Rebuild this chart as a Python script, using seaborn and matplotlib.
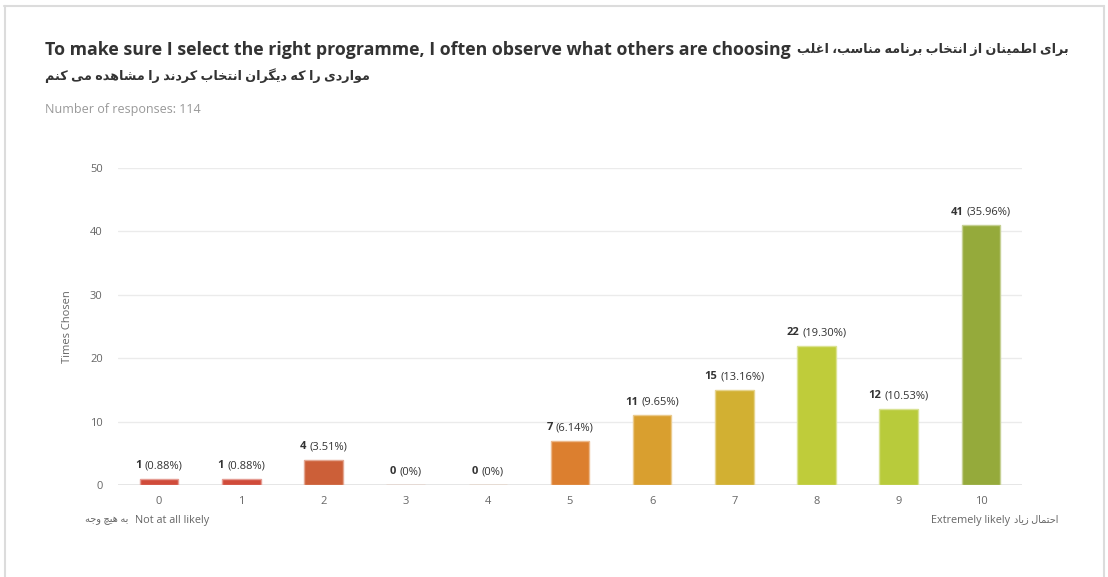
import matplotlib
matplotlib.use("Agg")
import matplotlib.pyplot as plt
import seaborn as sns
import pandas as pd
from matplotlib.lines import Line2D

# ---------------- data ----------------
categories = ["0", "1", "2", "3", "4", "5", "6", "7", "8", "9", "10"]
counts = [1, 1, 4, 0, 0, 7, 11, 15, 22, 12, 41]
pct_labels = ["(0.88%)", "(0.88%)", "(3.51%)", "(0%)", "(0%)", "(6.14%)",
              "(9.65%)", "(13.16%)", "(19.30%)", "(10.53%)", "(35.96%)"]
bar_colors = ["#d04b3a", "#d04b3a", "#cc5f38", "#d06a36", "#d77433", "#dc7f2f",
              "#d99f2f", "#d2b032", "#bfcc3a", "#b8cb3b", "#95aa3b"]
yticks = [0, 10, 20, 30, 40, 50]
title_en = "To make sure I select the right programme, I often observe what others are choosing"
title_fa_1 = "برای اطمینان از انتخاب برنامه مناسب، اغلب"
title_fa_2 = "مواردی را که دیگران انتخاب کردند را مشاهده می کنم"
subtitle = "Number of responses: 114"
ylabel = "Times Chosen"
low_en, low_fa = "Not at all likely", "به هیچ وجه"
high_en, high_fa = "Extremely likely", "احتمال زیاد"

# ------------- minimal Arabic/Persian shaping (matplotlib has no shaper) -------------
FORMS = {  # isolated, final, initial, medial
    "ا": (0xFE8D, 0xFE8E), "د": (0xFEA9, 0xFEAA), "ر": (0xFEAD, 0xFEAE),
    "ز": (0xFEAF, 0xFEB0), "و": (0xFEED, 0xFEEE),
    "ب": (0xFE8F, 0xFE90, 0xFE91, 0xFE92), "ت": (0xFE95, 0xFE96, 0xFE97, 0xFE98),
    "ج": (0xFE9D, 0xFE9E, 0xFE9F, 0xFEA0), "ح": (0xFEA1, 0xFEA2, 0xFEA3, 0xFEA4),
    "چ": (0xFB7A, 0xFB7B, 0xFB7C, 0xFB7D),
    "خ": (0xFEA5, 0xFEA6, 0xFEA7, 0xFEA8), "س": (0xFEB1, 0xFEB2, 0xFEB3, 0xFEB4),
    "ش": (0xFEB5, 0xFEB6, 0xFEB7, 0xFEB8), "ط": (0xFEC1, 0xFEC2, 0xFEC3, 0xFEC4),
    "ع": (0xFEC9, 0xFECA, 0xFECB, 0xFECC), "غ": (0xFECD, 0xFECE, 0xFECF, 0xFED0),
    "ل": (0xFEDD, 0xFEDE, 0xFEDF, 0xFEE0), "م": (0xFEE1, 0xFEE2, 0xFEE3, 0xFEE4),
    "ن": (0xFEE5, 0xFEE6, 0xFEE7, 0xFEE8), "ه": (0xFEE9, 0xFEEA, 0xFEEB, 0xFEEC),
    "ی": (0xFBFC, 0xFBFD, 0xFBFE, 0xFBFF), "ک": (0xFB8E, 0xFB8F, 0xFB90, 0xFB91),
    "گ": (0xFB92, 0xFB93, 0xFB94, 0xFB95),
}


def shape_rtl(s):
    out = []
    for i, ch in enumerate(s):
        if ch not in FORMS:
            out.append(ch)
            continue
        f = FORMS[ch]
        prev = s[i - 1] if i > 0 else ""
        nxt = s[i + 1] if i + 1 < len(s) else ""
        pj = prev in FORMS and len(FORMS[prev]) == 4
        nj = nxt in FORMS
        if len(f) == 4:
            if pj and nj:
                c = f[3]
            elif pj:
                c = f[1]
            elif nj:
                c = f[2]
            else:
                c = f[0]
        else:
            c = f[1] if pj else f[0]
        out.append(chr(c))
    return "".join(out)[::-1]


# ---------------- style ----------------
sns.set_theme(style="white")
FAM = ["Open Sans", "DejaVu Sans"]
plt.rcParams["font.family"] = FAM

df = pd.DataFrame({"score": categories, "count": counts})

fig = plt.figure(figsize=(11.08, 5.77), dpi=100)
ax = fig.add_axes([118 / 1108, 1 - 485 / 577, (1022 - 118) / 1108, (485 - 168) / 577])

sns.barplot(data=df, x="score", y="count", hue="score", palette=bar_colors,
            order=categories, hue_order=categories, legend=False, width=0.47,
            ax=ax, saturation=1)

for p, c in zip(ax.patches, bar_colors):
    p.set_facecolor(c)
    rgb = matplotlib.colors.to_rgb(c)
    light = tuple(0.55 * v + 0.45 for v in rgb)
    p.set_edgecolor(light)
    p.set_linewidth(1.0)

ax.set_ylim(0, 50)
ax.set_xlim(-0.5, 10.5)
ax.set_yticks(yticks)
ax.yaxis.grid(True, color="#ebebeb", linewidth=1)
ax.xaxis.grid(False)
ax.set_axisbelow(True)
for s in ax.spines.values():
    s.set_visible(False)
ax.axhline(0, color="#e2e2e2", linewidth=2, zorder=0.5)
ax.tick_params(axis="both", length=0, labelsize=8, labelcolor="#666666")
ax.tick_params(axis="y", pad=11)
ax.tick_params(axis="x", pad=8)
ax.set_xlabel("")
ax.set_ylabel(ylabel, fontsize=8, color="#666666", labelpad=12)

# value labels: bold count + normal percentage
pairs = []
for i, (n, pl) in enumerate(zip(counts, pct_labels)):
    t1 = ax.annotate(str(n), (i, n), xytext=(0, 13), textcoords="offset pixels",
                     ha="left", va="center", fontsize=8, fontweight="bold", color="#333333")
    t2 = ax.annotate(pl, (i, n), xytext=(0, 13), textcoords="offset pixels",
                     ha="left", va="center", fontsize=8, color="#333333")
    pairs.append((t1, t2))

# titles
t_en = fig.text(45 / 1108, 1 - 50 / 577, title_en, fontsize=12.8, fontweight="bold",
                color="#333333", va="center", ha="left")
t_fa1 = fig.text(45 / 1108, 1 - 50 / 577, shape_rtl(title_fa_1), fontsize=9.2,
                 fontweight="bold", color="#333333", va="center", ha="left", family=FAM)
fig.text(45 / 1108, 1 - 76 / 577, shape_rtl(title_fa_2),
         fontsize=9.2, fontweight="bold", color="#333333", va="center", ha="left", family=FAM)
fig.text(45 / 1108, 1 - 110 / 577, subtitle, fontsize=9, color="#999999",
         va="center", ha="left")

fig.canvas.draw()
gap = 3
for t1, t2 in pairs:
    w1 = t1.get_window_extent().width
    w2 = t2.get_window_extent().width
    tot = w1 + gap + w2
    t1.xyann = (-tot / 2, 13)
    t2.xyann = (-tot / 2 + w1 + gap, 13)
en_right = t_en.get_window_extent().x1
t_fa1.set_x((en_right + 6) / 1108)

# scale end labels
fig.text(85 / 1108, 1 - 520 / 577, shape_rtl(low_fa), fontsize=7,
         color="#666666", va="center", ha="left", family=FAM)
fig.text(135 / 1108, 1 - 520 / 577, low_en, fontsize=7.8,
         color="#666666", va="center", ha="left")
fig.text(1010 / 1108, 1 - 520 / 577, high_en, fontsize=7.8,
         color="#666666", va="center", ha="right")
fig.text(1058 / 1108, 1 - 520 / 577, shape_rtl(high_fa), fontsize=7,
         color="#666666", va="center", ha="right", family=FAM)

# panel frame
for xs, ys in [((4 / 1108, 1104 / 1108), (1 - 6 / 577, 1 - 6 / 577)),
               ((5 / 1108, 5 / 1108), (0, 1 - 6 / 577)),
               ((1104 / 1108, 1104 / 1108), (0, 1 - 6 / 577))]:
    fig.add_artist(Line2D(xs, ys, color="#dcdcdc", linewidth=1.5, transform=fig.transFigure))

fig.savefig("out.png", dpi=100)
